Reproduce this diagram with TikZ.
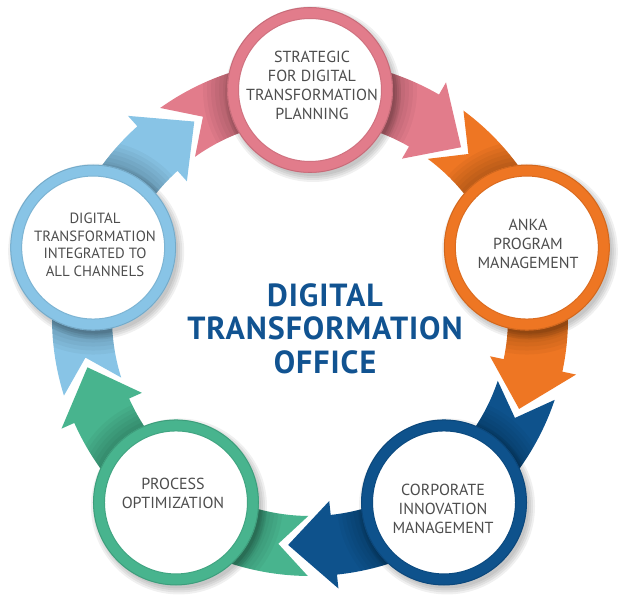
\documentclass[tikz,border=0pt]{standalone}
\usepackage{fontspec}
\setmainfont{PT Sans}
\definecolor{pinkc}{HTML}{E27C8B}
\definecolor{orangec}{HTML}{EE7623}
\definecolor{navyc}{HTML}{0E528C}
\definecolor{greenc}{HTML}{48B48E}
\definecolor{bluec}{HTML}{88C4E6}
\definecolor{titlec}{HTML}{115391}
\definecolor{textc}{HTML}{4D4D4D}
\begin{document}
\begin{tikzpicture}[x=1pt,y=1pt,
  ring/.style={circle, fill=white, draw=#1, line width=12pt, minimum size=154pt, inner sep=0pt, outer sep=0pt},
  lbl/.style={text=textc, align=center, font=\fontsize{16}{19}\selectfont},
  lblsmall/.style={text=textc, align=center, font=\fontsize{14.8}{17.6}\selectfont},
  title/.style={text=titlec, align=center, font=\fontsize{32}{33.5}\selectfont\bfseries\addfontfeature{LetterSpace=3}}]
\useasboundingbox (0,0) rectangle (638,598);
\fill[white] (0,0) rectangle (638,598);
\begin{scope}[shift={(310,280)}]
  % arrow bands
  \foreach \ang/\col in {90/pinkc,18/orangec,-54/navyc,-126/greenc,162/bluec}{
    \pgfmathsetmacro\ta{\ang+35.5}
    \pgfmathsetmacro\tb{\ang-30}
    \pgfmathsetmacro\tc{\ang-41.5}
    \pgfmathsetmacro\td{\ang+28}
    \fill[\col] (\ta:258pt) arc[start angle=\ta, end angle=\tb, radius=258pt]
      -- (\tb:272pt) -- (\tc:228pt) -- (\tb:184pt) -- (\tb:198pt)
      arc[start angle=\tb, end angle=\ta, radius=198pt] -- (\td:228pt) -- cycle;
    \begin{scope}
      \clip (\ta:258pt) arc[start angle=\ta, end angle=\tb, radius=258pt]
        -- (\tb:272pt) -- (\tc:228pt) -- (\tb:184pt) -- (\tb:198pt)
        arc[start angle=\tb, end angle=\ta, radius=198pt] -- (\td:228pt) -- cycle;
      \foreach \kk in {4,8,...,24}{
        \pgfmathsetmacro\rr{83+\kk}
        \fill[black,opacity=0.035] (\ang:228pt) circle[radius=\rr pt];
      }
    \end{scope}
  }
  % drop shadows of the circles
  \foreach \ang in {90,18,-54,-126,162}{
    \foreach \kk in {0,2,4,6}{
      \pgfmathsetmacro\rr{82+\kk}
      \fill[black,opacity=0.06] ([shift={(3,-4)}]\ang:228pt) circle[radius=\rr pt];
    }
  }
  % circles
  \node[ring=pinkc]   (strat)   at (90:228pt)  {};
  \node[ring=orangec] (anka)    at (18:228pt)  {};
  \node[ring=navyc]   (corp)    at (-54:228pt) {};
  \node[ring=greenc]  (proc)    at (-126:228pt){};
  \node[ring=bluec]   (chan)    at (162:228pt) {};
  \foreach \nm/\col in {strat/pinkc,anka/orangec,corp/navyc,proc/greenc,chan/bluec}{
    \draw[\col!70!black, line width=0.8pt, opacity=0.45] (\nm.center) circle[radius=82.4pt];
    \draw[black, line width=1pt, opacity=0.08] (\nm.center) circle[radius=71.5pt];
  }
\end{scope}
% circle texts
\node[lbl] (tstrat) at (312,512.5) {STRATEGIC\\FOR DIGITAL\\TRANSFORMATION\\PLANNING};
\node[lbl] (tanka) at (528,354) {ANKA\\PROGRAM\\MANAGEMENT};
\node[lbl] (tcorp) at (443,89) {CORPORATE\\INNOVATION\\MANAGEMENT};
\node[lbl] (tproc) at (173,104.5) {PROCESS\\OPTIMIZATION};
\node[lblsmall] (tchan) at (95,353.3) {DIGITAL\\TRANSFORMATION\\INTEGRATED TO\\ALL CHANNELS};
% title
\node[title] (office) at (325,269.6) {DIGITAL\\TRANSFORMATION\\OFFICE};
\end{tikzpicture}
\end{document}
